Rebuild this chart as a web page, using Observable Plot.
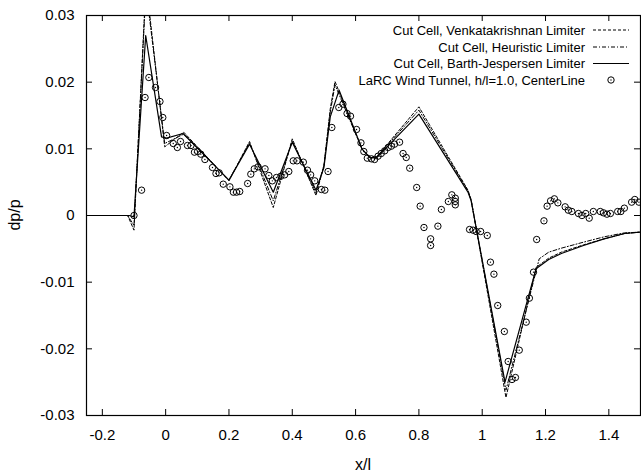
<!DOCTYPE html>
<html>
<head>
<meta charset="utf-8">
<script src="https://cdn.jsdelivr.net/npm/d3@7"></script>
<script src="https://cdn.jsdelivr.net/npm/@observablehq/plot@0.6"></script>
<style>
  html, body { margin: 0; padding: 0; background: #fff; }
  #chart { width: 641px; height: 475px; }
</style>
</head>
<body>
<div id="chart"></div>
<script>
// ---- data ----
const xTicks = [-0.2, 0, 0.2, 0.4, 0.6, 0.8, 1, 1.2, 1.4];
const yTicks = [-0.03, -0.02, -0.01, 0, 0.01, 0.02, 0.03];

const seriesNames = [
  "Cut Cell, Venkatakrishnan Limiter",
  "Cut Cell, Heuristic Limiter",
  "Cut Cell, Barth-Jespersen Limiter",
  "LaRC Wind Tunnel, h/l=1.0, CenterLine"
];

// Barth-Jespersen (solid)
const bjX = [-0.25, -0.115, -0.10, -0.063, -0.013, 0.003, 0.055, 0.13, 0.20, 0.265, 0.34, 0.40, 0.475, 0.50, 0.52, 0.548, 0.62, 0.645, 0.665, 0.80, 0.955, 0.965, 1.072, 1.17, 1.21, 1.25, 1.32, 1.385, 1.45, 1.5];
const bjY = [0, 0, -0.0002, 0.0270, 0.0118, 0.0116, 0.0123, 0.0087, 0.0053, 0.0107, 0.0035, 0.0110, 0.0038, 0.0072, 0.0148, 0.0188, 0.0100, 0.0087, 0.0086, 0.0152, 0.0035, 0.0022, -0.0250, -0.0080, -0.0066, -0.0057, -0.0045, -0.0035, -0.0027, -0.0025];

// Venkatakrishnan (dashed)
const vkX = [-0.25, -0.12, -0.10, -0.062, -0.003, 0.057, 0.13, 0.20, 0.265, 0.34, 0.40, 0.475, 0.50, 0.52, 0.535, 0.62, 0.645, 0.665, 0.80, 0.955, 0.965, 1.075, 1.17, 1.21, 1.25, 1.32, 1.385, 1.45, 1.5];
const vkY = [0, 0, -0.0022, 0.0350, 0.0103, 0.0125, 0.0088, 0.0052, 0.0111, 0.0012, 0.0115, 0.0030, 0.0075, 0.0160, 0.0201, 0.0100, 0.0087, 0.0087, 0.0163, 0.0038, 0.0024, -0.0273, -0.0078, -0.0064, -0.0055, -0.0044, -0.0035, -0.0027, -0.0025];

// Heuristic (dash-dot)
const heX = [-0.25, -0.12, -0.10, -0.062, -0.003, 0.057, 0.13, 0.20, 0.265, 0.34, 0.40, 0.475, 0.50, 0.52, 0.535, 0.62, 0.645, 0.665, 0.80, 0.955, 0.965, 1.075, 1.18, 1.21, 1.25, 1.32, 1.385, 1.45, 1.5];
const heY = [0, 0, -0.0015, 0.0340, 0.0108, 0.0122, 0.0087, 0.0053, 0.0109, 0.0022, 0.0112, 0.0034, 0.0075, 0.0155, 0.0196, 0.0100, 0.0087, 0.0087, 0.0158, 0.0037, 0.0023, -0.0262, -0.0065, -0.0055, -0.0049, -0.0040, -0.0032, -0.0026, -0.0025];

// Wind tunnel measurements
const expX = [-0.100, -0.076, -0.065, -0.053, -0.032, -0.018, -0.009, 0.003, 0.024, 0.037, 0.047, 0.069, 0.080, 0.091, 0.101, 0.111, 0.124, 0.148, 0.159, 0.169, 0.182, 0.203, 0.214, 0.224, 0.234, 0.259, 0.269, 0.280, 0.292, 0.314, 0.326, 0.337, 0.350, 0.364, 0.376, 0.389, 0.403, 0.415, 0.435, 0.448, 0.458, 0.471, 0.492, 0.503, 0.513, 0.525, 0.547, 0.560, 0.573, 0.584, 0.603, 0.617, 0.626, 0.637, 0.650, 0.660, 0.671, 0.681, 0.692, 0.703, 0.713, 0.723, 0.739, 0.750, 0.760, 0.771, 0.793, 0.804, 0.816, 0.837, 0.837, 0.860, 0.871, 0.893, 0.904, 0.915, 0.915, 0.915, 0.960, 0.971, 0.981, 0.995, 1.016, 1.026, 1.037, 1.049, 1.070, 1.082, 1.094, 1.105, 1.117, 1.139, 1.149, 1.162, 1.172, 1.195, 1.205, 1.216, 1.228, 1.239, 1.262, 1.272, 1.283, 1.304, 1.315, 1.327, 1.338, 1.351, 1.373, 1.383, 1.394, 1.405, 1.428, 1.438, 1.449, 1.472, 1.482, 1.495];
const expY = [0.0000, 0.0038, 0.0177, 0.0207, 0.0192, 0.0171, 0.0147, 0.0120, 0.0108, 0.0102, 0.0111, 0.0105, 0.0105, 0.0095, 0.0096, 0.0092, 0.0084, 0.0072, 0.0063, 0.0064, 0.0047, 0.0043, 0.0035, 0.0035, 0.0036, 0.0048, 0.0062, 0.0070, 0.0073, 0.0070, 0.0060, 0.0052, 0.0057, 0.0059, 0.0061, 0.0066, 0.0082, 0.0082, 0.0080, 0.0068, 0.0061, 0.0052, 0.0039, 0.0038, 0.0066, 0.0132, 0.0162, 0.0167, 0.0153, 0.0149, 0.0129, 0.0109, 0.0096, 0.0086, 0.0085, 0.0084, 0.0089, 0.0093, 0.0097, 0.0102, 0.0104, 0.0107, 0.0110, 0.0093, 0.0087, 0.0071, 0.0042, 0.0014, -0.0018, -0.0035, -0.0045, -0.0016, 0.0009, 0.0021, 0.0031, 0.0026, 0.0021, 0.0016, -0.0021, -0.0022, -0.0024, -0.0024, -0.0030, -0.0070, -0.0088, -0.0135, -0.0174, -0.0219, -0.0246, -0.0243, -0.0202, -0.0160, -0.0124, -0.0085, -0.0036, -0.0008, 0.0014, 0.0022, 0.0025, 0.0019, 0.0013, 0.0008, 0.0006, 0.0003, 0.0000, 0.0003, -0.0004, 0.0006, 0.0006, 0.0004, 0.0002, 0.0003, 0.0006, 0.0006, 0.0011, 0.0020, 0.0024, 0.0020];

// ---- build tables ----
const toPts = (xs, ys) => xs.map((x, i) => ({x, y: ys[i]}));
const bj = toPts(bjX, bjY);
const vk = toPts(vkX, vkY);
const he = toPts(heX, heY);
const exp = toPts(expX, expY);

const W = 641, H = 475, ML = 86, MR = 1, MT = 15, MB = 60;
const innerW = W - ML - MR, innerH = H - MT - MB, TICK = 6;
const FONT = "'Liberation Sans', Arial, Helvetica, sans-serif";

const plot = Plot.plot({
  width: W, height: H,
  marginLeft: ML, marginRight: MR, marginTop: MT, marginBottom: MB,
  style: {fontFamily: FONT, fontSize: "15px", background: "#fff", color: "#000"},
  x: {domain: [-0.25, 1.5]},
  y: {domain: [-0.03, 0.03]},
  marks: [
    // inward ticks on all four sides
    Plot.tickY(yTicks, {y: d => d, stroke: "#000", strokeWidth: 1, insetRight: innerW - TICK}),
    Plot.tickY(yTicks, {y: d => d, stroke: "#000", strokeWidth: 1, insetLeft: innerW - TICK}),
    Plot.tickX(xTicks, {x: d => d, stroke: "#000", strokeWidth: 1, insetTop: innerH - TICK}),
    Plot.tickX(xTicks, {x: d => d, stroke: "#000", strokeWidth: 1, insetBottom: innerH - TICK}),
    Plot.axisY({ticks: yTicks, tickFormat: d => String(d), tickSize: 0, tickPadding: 12, label: null, fontSize: 15}),
    Plot.axisX({ticks: xTicks, tickFormat: d => String(d), tickSize: 0, tickPadding: 14, label: null, fontSize: 15}),
    Plot.line(vk, {x: "x", y: "y", stroke: "#000", strokeWidth: 1, strokeDasharray: "3,2", clip: true}),
    Plot.line(he, {x: "x", y: "y", stroke: "#000", strokeWidth: 1, strokeDasharray: "4,2,1,2", clip: true}),
    Plot.line(bj, {x: "x", y: "y", stroke: "#000", strokeWidth: 1.2, clip: true}),
    Plot.dot(exp, {x: "x", y: "y", r: 3.2, stroke: "#000", strokeWidth: 1, fill: "none"}),
    Plot.dot(exp, {x: "x", y: "y", r: 0.7, fill: "#000", stroke: "none"}),
    Plot.frame({stroke: "#000", strokeWidth: 1.2})
  ]
});

const svg = d3.select(plot);
// axis titles
svg.append("text")
  .attr("x", ML + innerW / 2).attr("y", H - 5)
  .attr("text-anchor", "middle").attr("font-family", FONT).attr("font-size", 16)
  .text("x/l");
svg.append("text")
  .attr("transform", `translate(20,${MT + innerH / 2}) rotate(-90)`)
  .attr("text-anchor", "middle").attr("font-family", FONT).attr("font-size", 16)
  .text("dp/p");

// legend
const lg = svg.append("g").attr("font-family", FONT).attr("font-size", 13);
const rowsY = [30, 47, 63.5, 80];
const dashes = ["3,2", "4,2,1,2", null, null];
seriesNames.forEach((name, i) => {
  lg.append("text").attr("x", 585).attr("y", rowsY[i]).attr("dy", "0.35em")
    .attr("text-anchor", "end").text(name);
  if (i < 3) {
    const l = lg.append("line").attr("x1", 593).attr("x2", 629)
      .attr("y1", rowsY[i]).attr("y2", rowsY[i])
      .attr("stroke", "#000").attr("stroke-width", i === 2 ? 1.2 : 1);
    if (dashes[i]) l.attr("stroke-dasharray", dashes[i]);
  } else {
    lg.append("circle").attr("cx", 611).attr("cy", rowsY[i]).attr("r", 3.2)
      .attr("fill", "none").attr("stroke", "#000");
    lg.append("circle").attr("cx", 611).attr("cy", rowsY[i]).attr("r", 0.7).attr("fill", "#000");
  }
});

document.getElementById("chart").appendChild(plot);
</script>
</body>
</html>
